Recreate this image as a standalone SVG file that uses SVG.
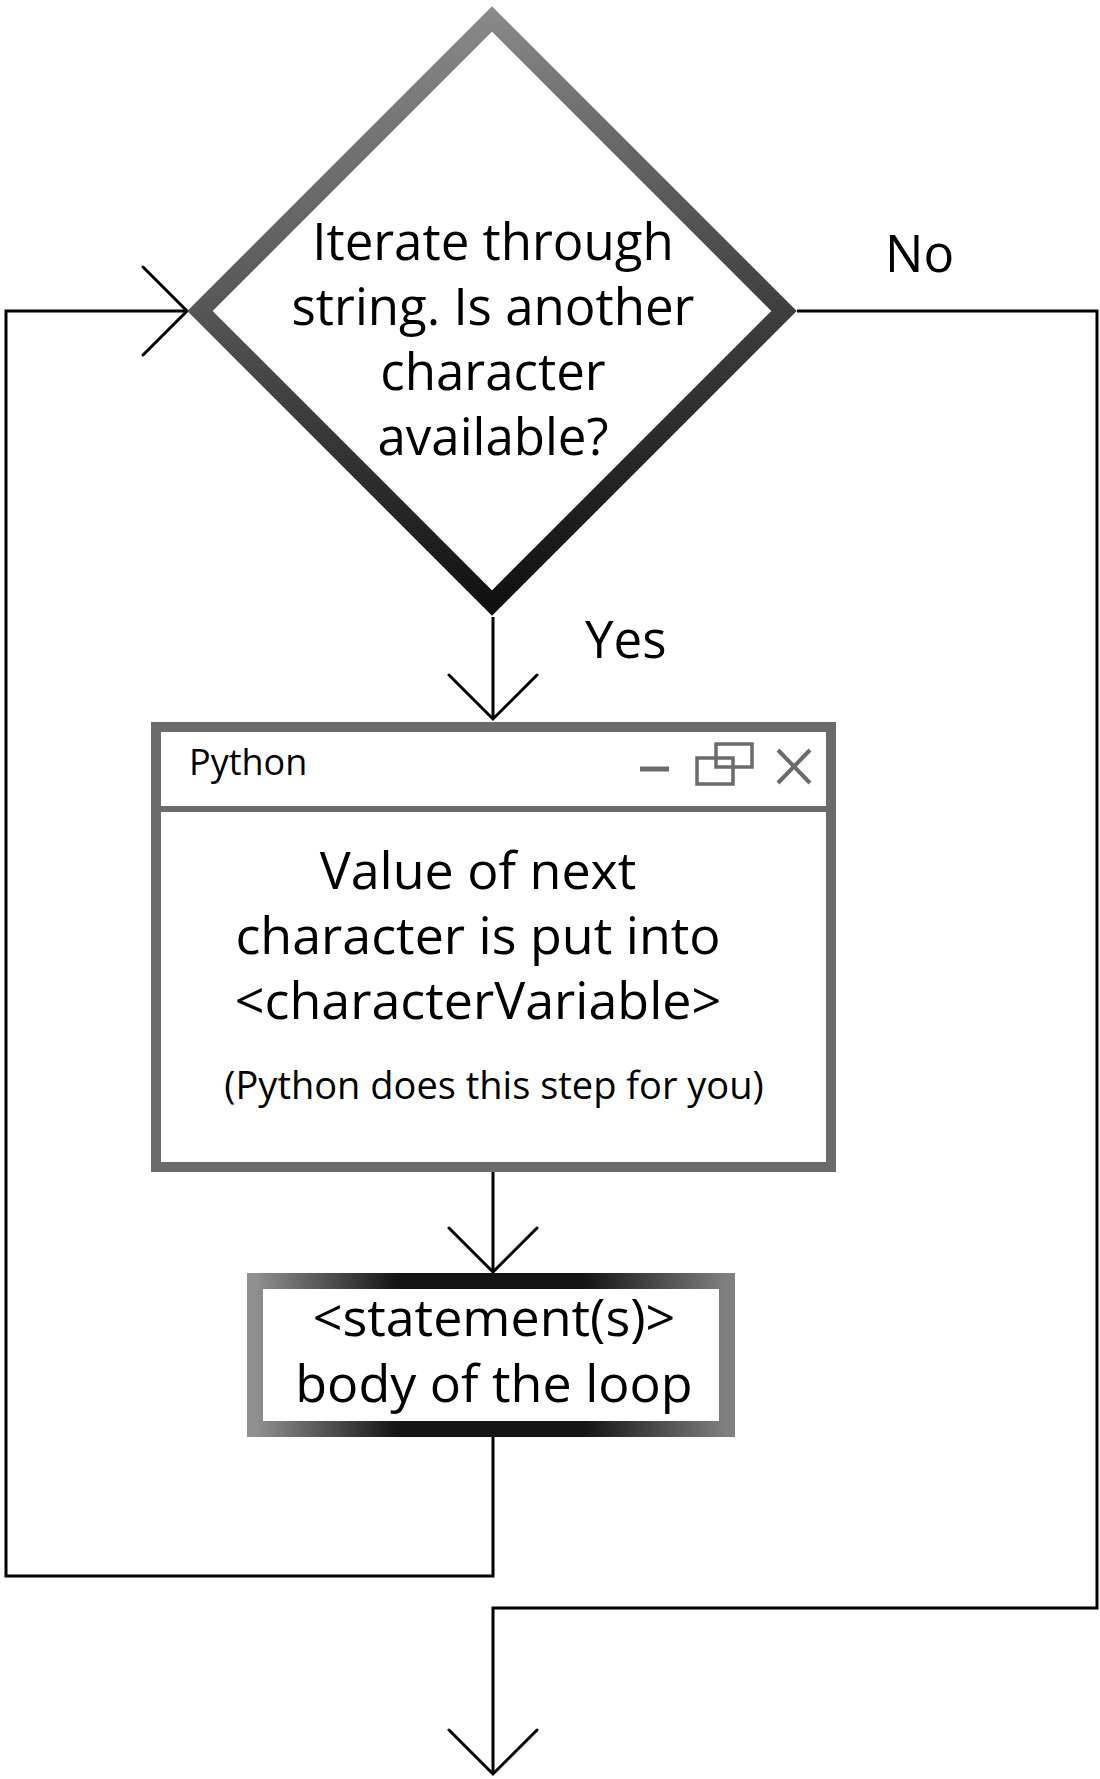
<svg xmlns="http://www.w3.org/2000/svg" width="1100" height="1779" viewBox="0 0 1100 1779">
<style>
text { font-family: "Open Sans", "Noto Sans", "DejaVu Sans", sans-serif; fill: #000; }
.big { font-size: 51px; }
.mid { font-size: 38px; }
.title { font-size: 36px; }
.conn { fill: none; stroke: #000; stroke-width: 3; }
.ctrl { fill: none; stroke: #6b6b6b; }
</style>
<defs>
<linearGradient id="gDiamond" x1="0.4" y1="0" x2="0.6" y2="1">
<stop offset="0" stop-color="#8a8a8a"/>
<stop offset="0.5" stop-color="#4a4a4a"/>
<stop offset="1" stop-color="#0e0e0e"/>
</linearGradient>
<linearGradient id="gBody" x1="0" y1="0" x2="1" y2="0">
<stop offset="0" stop-color="#909090"/>
<stop offset="0.3" stop-color="#151515"/>
<stop offset="0.7" stop-color="#151515"/>
<stop offset="1" stop-color="#808080"/>
</linearGradient>
<marker id="arrow" markerUnits="userSpaceOnUse" markerWidth="100" markerHeight="100" viewBox="-50 -50 100 100" refX="0" refY="0" orient="auto" overflow="visible">
<path d="M-44,-44 L0,0 L-44,44" fill="none" stroke="#000" stroke-width="3" stroke-linecap="round"/>
</marker>
</defs>
<rect width="1100" height="1779" fill="#fff"/>

<g id="connectors">
<path class="conn" d="M493,617 V719" marker-end="url(#arrow)"/>
<path class="conn" d="M493,1172 V1272" marker-end="url(#arrow)"/>
<path class="conn" d="M493,1437 V1576 H6 V311 H187" marker-end="url(#arrow)"/>
<path class="conn" d="M797,311 H1097 V1608 H493 V1774" marker-end="url(#arrow)"/>
<text class="big" x="885" y="272">No</text>
<text class="big" x="585" y="658">Yes</text>
</g>

<g id="decision">
<path d="M492,19 L784,311 L492,603 L200,311 Z" fill="#fff" stroke="url(#gDiamond)" stroke-width="18"/>
<text class="big" text-anchor="middle" x="493" y="260">Iterate through</text>
<text class="big" text-anchor="middle" x="493" y="325">string. Is another</text>
<text class="big" text-anchor="middle" x="493" y="390">character</text>
<text class="big" text-anchor="middle" x="493" y="455">available?</text>
</g>

<g id="python-window">
<rect x="156" y="727" width="675" height="440" fill="#fff" stroke="#6b6b6b" stroke-width="10"/>
<line x1="156" y1="809" x2="831" y2="809" stroke="#6b6b6b" stroke-width="6"/>
<text class="title" x="189" y="775">Python</text>
<line class="ctrl" x1="640" y1="769" x2="669" y2="769" stroke-width="5"/>
<rect class="ctrl" x="716" y="744" width="36" height="23" stroke-width="3.5"/>
<rect class="ctrl" x="697" y="758" width="36" height="26" stroke-width="3.5"/>
<path class="ctrl" d="M778,750 L810,783 M810,750 L778,783" stroke-width="4"/>
<text class="big" text-anchor="middle" x="478" y="889" style="font-size:52px">Value of next</text>
<text class="big" text-anchor="middle" x="478" y="954" style="font-size:52px">character is put into</text>
<text class="big" text-anchor="middle" x="478" y="1019" style="font-size:52px">&lt;characterVariable&gt;</text>
<text class="mid" text-anchor="middle" x="494" y="1099">(Python does this step for you)</text>
</g>

<g id="loop-body">
<rect x="255" y="1281" width="472" height="148" fill="#fff" stroke="url(#gBody)" stroke-width="16"/>
<text class="big" text-anchor="middle" x="494" y="1336" style="font-size:52px">&lt;statement(s)&gt;</text>
<text class="big" text-anchor="middle" x="494" y="1402" style="font-size:52px">body of the loop</text>
</g>
</svg>
